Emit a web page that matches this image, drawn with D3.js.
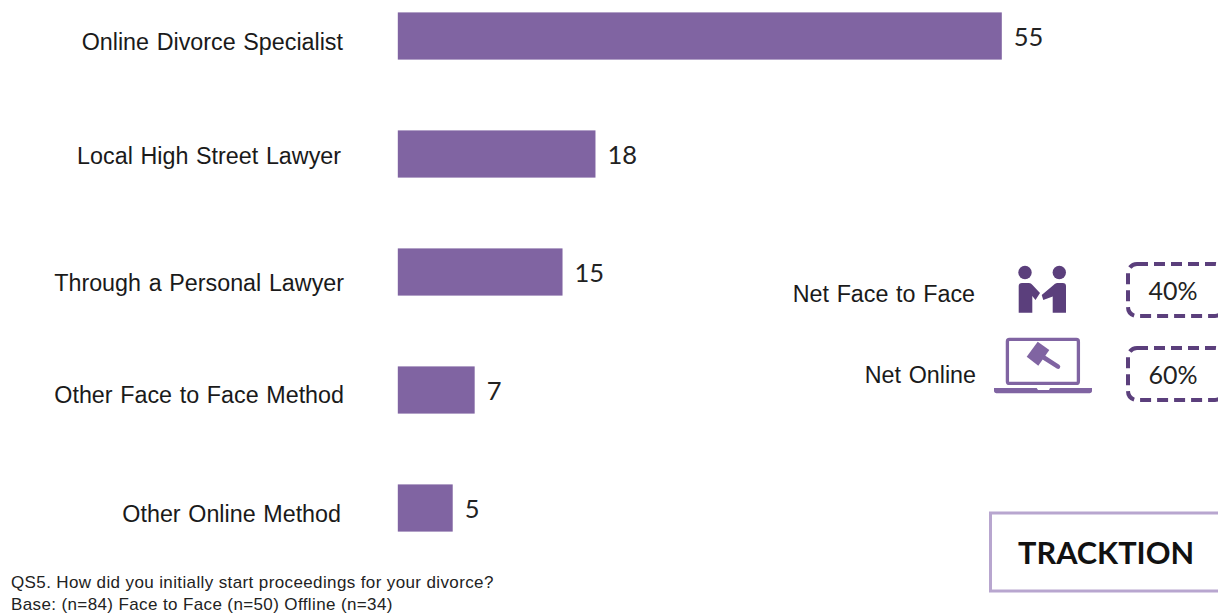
<!DOCTYPE html>
<html>
<head>
<meta charset="utf-8">
<script src="https://cdn.jsdelivr.net/npm/d3@7"></script>
<style>
  html, body { margin: 0; padding: 0; background: #fff; }
  svg { display: block; }
</style>
</head>
<body>
<div id="chart"></div>
<script>
var categories = ['Online Divorce Specialist', 'Local High Street Lawyer', 'Through a Personal Lawyer', 'Other Face to Face Method', 'Other Online Method'];
var values = [55, 18, 15, 7, 5];
var netLabels = ['Net Face to Face', 'Net Online'];
var netValues = ['40%', '60%'];
var footnotes = ['QS5. How did you initially start proceedings for your divorce?', 'Base: (n=84) Face to Face (n=50) Offline (n=34)'];
var brand = 'TRACKTION';

var sansFont = '"Liberation Sans", Arial, sans-serif',
    valueFont = 'Lato, "Open Sans", sans-serif',
    barColor = '#8064a2',
    darkPurple = '#5b3f7c',
    lightPurple = '#b8a6cf';

// the labels in the original are hand placed, they do not line up with the bars
var labelRight = [343, 341, 344, 344, 341],
    labelNudge = [6, 2, 11, 5, 6];

var svg = d3.select('#chart').append('svg')
        .attr('width', 1218)
        .attr('height', 614);

var x = d3.scaleLinear().domain([0, 55]).range([397.8, 1001.8]);
var y = d3.scaleBand().domain(categories).range([-23, 567]).paddingInner(0.6).paddingOuter(0.3);

svg.append('g').selectAll('rect')
        .data(values)
        .enter().append('rect')
        .attr('x', x(0))
        .attr('y', function(d, i){ return y(categories[i]); })
        .attr('width', function(d){ return x(d) - x(0); })
        .attr('height', y.bandwidth())
        .attr('fill', barColor);

svg.append('g').selectAll('text')
        .data(values)
        .enter().append('text')
        .attr('x', function(d){ return x(d) + 12; })
        .attr('y', function(d, i){ return y(categories[i]) + y.bandwidth() / 2 + 9.5; })
        .style('font', '25.5px ' + valueFont)
        .attr('fill', '#222')
        .text(function(d){ return d; });

svg.append('g').selectAll('text')
        .data(categories)
        .enter().append('text')
        .attr('x', function(d, i){ return labelRight[i]; })
        .attr('y', function(d, i){ return y(d) + y.bandwidth() / 2 + labelNudge[i] + 8; })
        .attr('text-anchor', 'end')
        .style('font', '23.3px ' + sansFont)
        .style('word-spacing', '1.2px')
        .attr('fill', '#1a1a1a')
        .text(function(d){ return d; });

// net summary on the right
var netRight = [975, 976], netBase = [302, 383];

svg.append('g').selectAll('text')
        .data(netLabels)
        .enter().append('text')
        .attr('x', function(d, i){ return netRight[i]; })
        .attr('y', function(d, i){ return netBase[i]; })
        .attr('text-anchor', 'end')
        .style('font', '23.3px ' + sansFont)
        .style('word-spacing', '1.2px')
        .attr('fill', '#1a1a1a')
        .text(function(d){ return d; });

var boxTop = [264, 348];

var boxes = svg.append('g').selectAll('g')
        .data(netValues)
        .enter().append('g')
        .attr('transform', function(d, i){ return 'translate(1128,' + boxTop[i] + ')'; });

boxes.append('rect')
        .attr('width', 96)
        .attr('height', 52)
        .attr('rx', 9)
        .attr('fill', 'none')
        .attr('stroke', darkPurple)
        .attr('stroke-width', 4)
        .attr('stroke-dasharray', '11 6');

boxes.append('text')
        .attr('x', 45)
        .attr('y', 36)
        .attr('text-anchor', 'middle')
        .style('font', '25px ' + valueFont)
        .attr('fill', '#222')
        .text(function(d){ return d; });

// people shaking hands
var people = svg.append('g').attr('fill', darkPurple);

people.append('circle').attr('cx', 1025).attr('cy', 272.5).attr('r', 6.7);
people.append('circle').attr('cx', 1059.3).attr('cy', 272.5).attr('r', 6.7);
people.append('path').attr('d', 'M1018.7,286 Q1018.7,283 1022,283 L1029,283 Q1031,283 1032.5,285 L1040,293 L1035.5,300 L1032.3,296 L1032.3,312.7 L1018.7,312.7 Z');
people.append('path').attr('d', 'M1066,286 Q1066,283 1062.7,283 L1057,283 Q1055,283 1053,285.5 L1041.7,295 L1043.3,300 L1052.7,296.5 L1052.7,312.7 L1066,312.7 Z');

// laptop with a gavel on the screen
var laptop = svg.append('g').attr('fill', barColor);

laptop.append('rect')
        .attr('x', 1007.4).attr('y', 339.4).attr('width', 71).attr('height', 44)
        .attr('rx', 2)
        .attr('fill', 'none').attr('stroke', barColor).attr('stroke-width', 3.3);
laptop.append('path').attr('d', 'M994,388 L1036.7,388 L1038,390 L1049,390 L1050,388 L1092,388 L1092,391 Q1092,393.3 1088,393.3 L998,393.3 Q994,393.3 994,391 Z');
laptop.append('path').attr('d', 'M1026.7,356.7 L1037.7,341.7 L1049.3,350 L1038.3,365.7 Z');
laptop.append('line')
        .attr('x1', 1043).attr('y1', 357).attr('x2', 1058).attr('y2', 366.7)
        .attr('stroke', barColor).attr('stroke-width', 4.5).attr('stroke-linecap', 'round');

// logo box
svg.append('rect')
        .attr('x', 990.5).attr('y', 513).attr('width', 240).attr('height', 78)
        .attr('fill', '#fff')
        .attr('stroke', lightPurple)
        .attr('stroke-width', 3);

svg.append('text')
        .attr('x', 1018)
        .attr('y', 563.5)
        .style('font', 'bold 30.7px ' + valueFont)
        .attr('fill', '#111')
        .text(brand);

svg.append('g').selectAll('text')
        .data(footnotes)
        .enter().append('text')
        .attr('x', 11)
        .attr('y', function(d, i){ return 587.5 + i * 22; })
        .style('font', '17px ' + sansFont)
        .style('letter-spacing', '0.38px')
        .attr('fill', '#222')
        .text(function(d){ return d; });
</script>
</body>
</html>
